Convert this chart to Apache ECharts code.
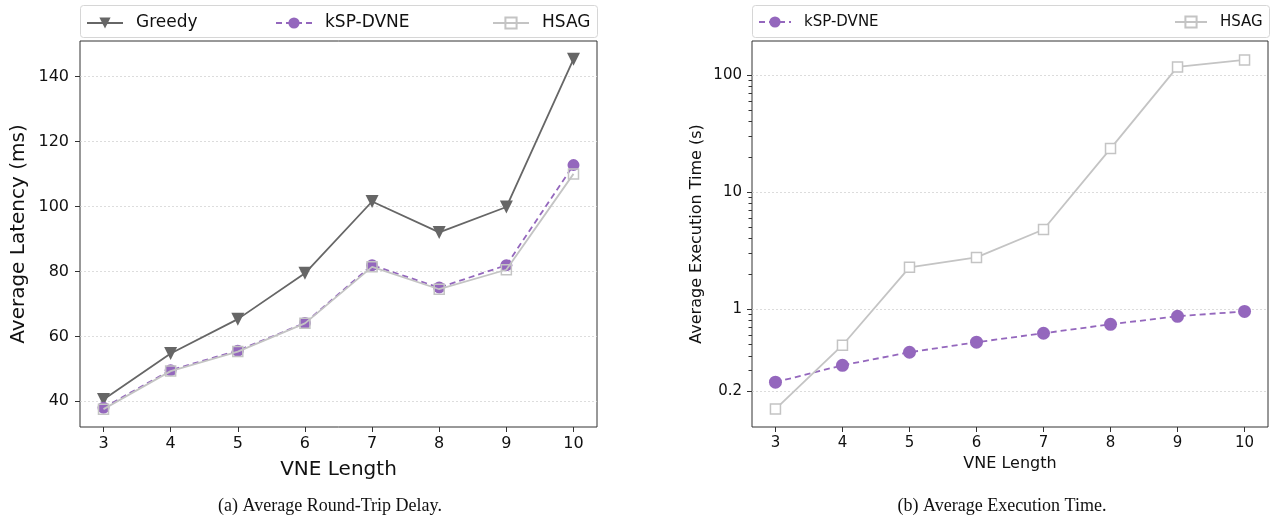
<!DOCTYPE html>
<html><head><meta charset="utf-8">
<script src="https://cdn.jsdelivr.net/npm/echarts@6/dist/echarts.min.js"></script>
<style>html,body{margin:0;padding:0;background:#fff}#c{width:1271px;height:520px}</style>
</head><body><div id="c"></div>
<script>
// ---- data ----
const vneLengths = [3, 4, 5, 6, 7, 8, 9, 10];
const latencyGreedy = [40.6, 54.7, 65.3, 79.4, 101.5, 92.0, 99.8, 145.3];
const latencyKsp    = [38.0, 49.6, 55.6, 64.1, 81.9, 75.0, 81.9, 112.7];
const latencyHsag   = [37.6, 49.3, 55.3, 64.0, 81.4, 74.5, 80.5, 110.0];
const timeKsp  = [0.239, 0.333, 0.43, 0.524, 0.625, 0.745, 0.872, 0.96];
const timeHsag = [0.141, 0.494, 2.28, 2.77, 4.8, 23.5, 117, 134];
const latencyTicks = [40, 60, 80, 100, 120, 140];
const timeTicks = [0.2, 1, 10, 100];
const timeMinorTicks = [0.3, 0.4, 0.5, 0.6, 0.7, 0.8, 0.9, 2, 3, 4, 5, 6, 7, 8, 9, 20, 30, 40, 50, 60, 70, 80, 90];
const seriesNames = ['Greedy', 'kSP-DVNE', 'HSAG'];
const captions = ['(a) Average Round-Trip Delay.', '(b) Average Execution Time.'];

// ---- build ----
const chart = echarts.init(document.getElementById('c'), null, { renderer: 'canvas' });
const FONT = 'DejaVu Sans';
const AX = '#333333';
const TXT = '#111111';
const pairs = vals => vneLengths.map((x, i) => [x, vals[i]]);
const logPairs = vals => vneLengths.map((x, i) => [x, Math.log10(vals[i])]);
const log = v => Math.log10(v);

const C_GREEDY = '#666666', C_KSP = '#9467bd', C_HSAG = '#c4c4c4';

function xAxis(gridIndex, fs, nameGap, nameFs) {
  return {
    type: 'value', gridIndex, min: 2.65, max: 10.35,
    name: 'VNE Length', nameLocation: 'middle', nameGap,
    nameTextStyle: { fontFamily: FONT, fontSize: nameFs, color: TXT },
    axisLine: { show: false, onZero: false },
    axisTick: { show: true, length: 5, lineStyle: { color: AX }, customValues: vneLengths },
    axisLabel: { fontFamily: FONT, fontSize: fs, color: TXT, margin: 9, customValues: vneLengths },
    splitLine: { show: false }
  };
}

const gridLine = { show: true, lineStyle: { color: '#d4d4d4', width: 0.8, type: [2, 2] } };

function legend(left, name, itemWidth, fs) {
  return { left, top: 9.5, padding: 5, data: [name], itemWidth, itemHeight: 14, selectedMode: false,
    textStyle: { fontFamily: FONT, fontSize: fs, color: TXT, padding: [0, 0, 0, 8] } };
}

const option = {
  animation: false,
  backgroundColor: '#ffffff',
  grid: [
    { left: 80, top: 41, width: 517, height: 386, show: true, borderColor: AX, borderWidth: 1, containLabel: false },
    { left: 752, top: 41, width: 516, height: 386, show: true, borderColor: AX, borderWidth: 1, containLabel: false },
    { left: 752, top: 41, width: 516, height: 386, show: false, containLabel: false }
  ],
  xAxis: [
    xAxis(0, 16, 33, 20),
    xAxis(1, 15, 29, 16),
    { type: 'value', gridIndex: 2, min: 2.65, max: 10.35, show: false }
  ],
  yAxis: [
    {
      type: 'value', gridIndex: 0, min: 32.1, max: 150.9,
      name: 'Average Latency (ms)', nameLocation: 'middle', nameGap: 51,
      nameTextStyle: { fontFamily: FONT, fontSize: 20, color: TXT },
      axisLine: { show: false, onZero: false },
      axisTick: { show: true, length: 5, lineStyle: { color: AX }, customValues: latencyTicks },
      axisLabel: { fontFamily: FONT, fontSize: 16, color: TXT, margin: 11, customValues: latencyTicks },
      splitLine: gridLine
    },
    {
      type: 'value', gridIndex: 1, min: -1.004, max: 2.289,
      name: 'Average Execution Time (s)', nameLocation: 'middle', nameGap: 47,
      nameTextStyle: { fontFamily: FONT, fontSize: 16, color: TXT },
      axisLine: { show: false, onZero: false },
      axisTick: { show: true, length: 5, lineStyle: { color: AX }, customValues: timeTicks.map(log) },
      axisLabel: {
        fontFamily: FONT, fontSize: 15, color: TXT, margin: 10, customValues: timeTicks.map(log),
        formatter: v => { const r = Math.pow(10, v); return r >= 1 ? String(Math.round(r)) : String(Math.round(r * 10) / 10); }
      },
      splitLine: gridLine
    },
    {
      type: 'value', gridIndex: 2, min: -1.004, max: 2.289,
      axisLine: { show: false, onZero: false },
      axisTick: { show: true, length: 3.5, lineStyle: { color: AX, width: 1 }, customValues: timeMinorTicks.map(log) },
      axisLabel: { show: false },
      splitLine: { show: false }
    }
  ],
  legend: [
    legend(81, seriesNames[0], 36, 17),
    legend(270, seriesNames[1], 36, 17),
    legend(487, seriesNames[2], 36, 17),
    legend(753, seriesNames[1], 32, 15),
    legend(1169, seriesNames[2], 32, 15)
  ],
  graphic: [
    { type: 'rect', shape: { x: 80.5, y: 5.5, width: 517, height: 32, r: 3 }, style: { fill: 'none', stroke: '#d6d6d6', lineWidth: 1 }, silent: true },
    { type: 'rect', shape: { x: 752.5, y: 5.5, width: 517, height: 32, r: 3 }, style: { fill: 'none', stroke: '#d6d6d6', lineWidth: 1 }, silent: true },
    { type: 'text', x: 330, y: 506, style: { text: captions[0], font: '18px "Liberation Serif"', fill: TXT, textAlign: 'center', textVerticalAlign: 'middle' } },
    { type: 'text', x: 1002, y: 506, style: { text: captions[1], font: '18px "Liberation Serif"', fill: TXT, textAlign: 'center', textVerticalAlign: 'middle' } }
  ],
  series: [
    { name: seriesNames[0], type: 'line', xAxisIndex: 0, yAxisIndex: 0, data: pairs(latencyGreedy),
      symbol: 'triangle', symbolRotate: 180, symbolSize: 13,
      itemStyle: { color: C_GREEDY }, lineStyle: { color: C_GREEDY, width: 1.8 }, z: 2 },
    { name: seriesNames[1], type: 'line', xAxisIndex: 0, yAxisIndex: 0, data: pairs(latencyKsp),
      symbol: 'circle', symbolSize: 12,
      itemStyle: { color: C_KSP }, lineStyle: { color: C_KSP, width: 1.8, type: [6, 4] }, z: 3 },
    { name: seriesNames[2], type: 'line', xAxisIndex: 0, yAxisIndex: 0, data: pairs(latencyHsag),
      symbol: 'rect', symbolSize: 10,
      itemStyle: { color: 'rgba(255,255,255,0)', borderColor: C_HSAG, borderWidth: 1.5 }, lineStyle: { color: C_HSAG, width: 1.8 }, z: 4 },
    { name: seriesNames[1], type: 'line', xAxisIndex: 1, yAxisIndex: 1, data: logPairs(timeKsp),
      symbol: 'circle', symbolSize: 13,
      itemStyle: { color: C_KSP }, lineStyle: { color: C_KSP, width: 1.8, type: [6, 4] }, z: 3 },
    { name: seriesNames[2], type: 'line', xAxisIndex: 1, yAxisIndex: 1, data: logPairs(timeHsag),
      symbol: 'rect', symbolSize: 10,
      itemStyle: { color: '#ffffff', borderColor: C_HSAG, borderWidth: 1.5 }, lineStyle: { color: C_HSAG, width: 1.8 }, z: 4 }
  ]
};
chart.setOption(option);
</script></body></html>
